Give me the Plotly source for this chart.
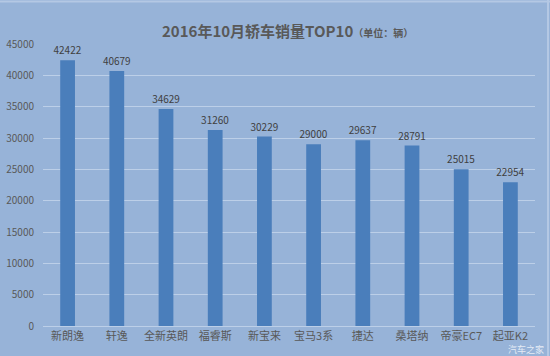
import plotly.graph_objects as go

categories = ["新朗逸", "轩逸", "全新英朗", "福睿斯", "新宝来", "宝马3系", "捷达", "桑塔纳", "帝豪EC7", "起亚K2"]
sales = [42422, 40679, 34629, 31260, 30229, 29000, 29637, 28791, 25015, 22954]
y_ticks = [0, 5000, 10000, 15000, 20000, 25000, 30000, 35000, 40000, 45000]

BG = "#97b3d8"
BAR = "#4a7ebb"
GRID = "#bccfe8"
TXT = "#595959"
FONT = "Noto Sans CJK SC, Open Sans, sans-serif"

L, R, T, B = 43, 15, 44, 30
W, H = 550, 356
plot_w = W - L - R
plot_h = H - T - B


def px_x(x):
    return (x - L) / plot_w


def px_y(y):
    return (H - B - y) / plot_h


fig = go.Figure(go.Bar(
    x=categories, y=sales,
    marker=dict(color=BAR, line=dict(width=0)),
    width=0.3,
    text=[str(v) for v in sales],
    textposition="outside",
    constraintext="none",
    textfont=dict(size=10, color="#404040", family=FONT),
    cliponaxis=False,
))

fig.update_layout(
    width=W, height=H,
    margin=dict(l=L, r=R, t=T, b=B, autoexpand=False),
    paper_bgcolor=BG, plot_bgcolor=BG,
    showlegend=False,
    font=dict(family=FONT, color=TXT),
    shapes=[
        dict(type="line", xref="paper", yref="paper", x0=px_x(0), x1=px_x(550),
             y0=px_y(1.5), y1=px_y(1.5), line=dict(color="#b4c8e4", width=2)),
        dict(type="line", xref="paper", yref="paper", x0=px_x(548), x1=px_x(548),
             y0=px_y(0), y1=px_y(356), line=dict(color="#b4c8e4", width=2)),
    ],
    annotations=[
        dict(text="<b>2016年10月轿车销量TOP10</b><span style='font-size:10px'><b>（单位：辆）</b></span>",
             x=px_x(287), y=px_y(31), xref="paper", yref="paper", showarrow=False,
             font=dict(size=15, color=TXT, family=FONT), xanchor="center", yanchor="middle"),
        dict(text="汽车之家", x=px_x(546), y=px_y(349), xref="paper", yref="paper", showarrow=False,
             font=dict(size=9, color="rgba(255,255,255,0.75)", family=FONT),
             xanchor="right", yanchor="middle"),
    ],
)

fig.update_xaxes(
    showgrid=False, showline=True, linecolor=GRID, linewidth=1, automargin=False,
    ticks="", tickfont=dict(size=11, color=TXT, family=FONT),
)
fig.update_yaxes(
    range=[0, 45000], tickvals=y_ticks, ticktext=[str(v) for v in y_ticks],
    showgrid=True, gridcolor=GRID, gridwidth=1, zeroline=False, automargin=False,
    tickfont=dict(size=10, color=TXT, family=FONT), ticks="", ticklabelstandoff=8,
)

fig.write_html("out.html", config={"displayModeBar": False},
               post_script="document.body.style.margin='0';document.body.style.overflow='hidden';")
